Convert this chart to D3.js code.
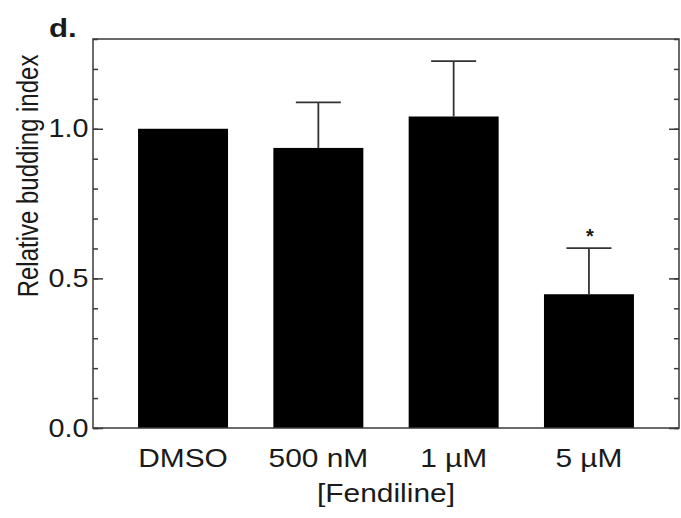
<!DOCTYPE html>
<html>
<head>
<meta charset="utf-8">
<script src="https://cdn.jsdelivr.net/npm/d3@7"></script>
<style>
  body { margin: 0; background: #fff; }
  text { font-family: "Liberation Sans", Arial, Helvetica, sans-serif; fill: #1a1a1a; }
</style>
</head>
<body>
<div id="chart"></div>
<script>
  'use strict';

  var categories = ["DMSO", "500 nM", "1 \u00b5M", "5 \u00b5M"];
  var means = [1.0, 0.936, 1.041, 0.447];
  var upperErrors = [0, 0.152, 0.185, 0.154];
  var marks = ["", "", "", "*"];
  var majorTicks = [0, 0.5, 1.0];

  var w = 681;
  var h = 518;
  var margin = {top: 39, right: 2, bottom: 90, left: 93};
  var innerW = w - margin.left - margin.right;
  var innerH = h - margin.top - margin.bottom;
  var stretch = "scale(1.15,1)";
  var axisColor = "#3a3a3a";

  var svg = d3.select("#chart").append("svg")
    .attr("width", w)
    .attr("height", h);

  var g = svg.append("g")
    .attr("transform", "translate(" + margin.left + "," + margin.top + ")");

  var x = d3.scaleBand()
    .domain(categories)
    .range([0, innerW])
    .paddingInner(0.335)
    .paddingOuter(0.333);

  var y = d3.scaleLinear()
    .domain([0, 1.3])
    .range([innerH, 0]);

  var data = categories.map(function (c, i) {
    return {name: c, mean: means[i], err: upperErrors[i], mark: marks[i]};
  });

  // bars
  g.selectAll("rect.bar")
    .data(data)
    .enter()
    .append("rect")
    .attr("class", "bar")
    .attr("x", function (d) { return x(d.name); })
    .attr("y", function (d) { return y(d.mean); })
    .attr("width", x.bandwidth())
    .attr("height", function (d) { return innerH - y(d.mean); })
    .attr("fill", "#000");

  // error bars (upper only)
  var capHalf = 22.5;
  var err = g.selectAll("g.err")
    .data(data.filter(function (d) { return d.err > 0; }))
    .enter()
    .append("g")
    .attr("class", "err")
    .attr("stroke", "#333")
    .attr("stroke-width", 1.8);

  err.append("line")
    .attr("x1", function (d) { return x(d.name) + x.bandwidth() / 2; })
    .attr("x2", function (d) { return x(d.name) + x.bandwidth() / 2; })
    .attr("y1", function (d) { return y(d.mean); })
    .attr("y2", function (d) { return y(d.mean + d.err); });

  err.append("line")
    .attr("x1", function (d) { return x(d.name) + x.bandwidth() / 2 - capHalf; })
    .attr("x2", function (d) { return x(d.name) + x.bandwidth() / 2 + capHalf; })
    .attr("y1", function (d) { return y(d.mean + d.err); })
    .attr("y2", function (d) { return y(d.mean + d.err); });

  // significance mark
  g.selectAll("text.mark")
    .data(data.filter(function (d) { return d.mark; }))
    .enter()
    .append("text")
    .attr("class", "mark")
    .attr("x", function (d) { return x(d.name) + x.bandwidth() / 2 + 1; })
    .attr("y", function (d) { return y(d.mean + d.err) - 5; })
    .attr("text-anchor", "middle")
    .attr("font-size", 20)
    .attr("font-weight", "bold")
    .text(function (d) { return d.mark; });

  // frame
  g.append("rect")
    .attr("x", 0)
    .attr("y", 0)
    .attr("width", innerW)
    .attr("height", innerH)
    .attr("fill", "none")
    .attr("stroke", axisColor)
    .attr("stroke-width", 1.5);

  // left axis: minor + major ticks pointing inward
  var leftMinor = g.append("g")
    .call(d3.axisLeft(y).ticks(13).tickSize(-5).tickFormat(""));
  var leftMajor = g.append("g")
    .call(d3.axisLeft(y).tickValues(majorTicks).tickSize(-10).tickPadding(4)
      .tickFormat(d3.format(".1f")));

  var rightMinor = g.append("g")
    .attr("transform", "translate(" + innerW + ",0)")
    .call(d3.axisRight(y).ticks(13).tickSize(-5).tickFormat(""));
  var rightMajor = g.append("g")
    .attr("transform", "translate(" + innerW + ",0)")
    .call(d3.axisRight(y).tickValues(majorTicks).tickSize(-10).tickFormat(""));

  [leftMinor, leftMajor, rightMinor, rightMajor].forEach(function (a) {
    a.select(".domain").remove();
    a.selectAll(".tick line").attr("stroke", axisColor).attr("stroke-width", 1.5);
  });

  leftMajor.selectAll(".tick text")
    .attr("font-size", 25)
    .attr("fill", "#1a1a1a")
    .attr("transform", stretch);

  // category labels
  var bottom = g.append("g")
    .attr("transform", "translate(0," + innerH + ")")
    .call(d3.axisBottom(x).tickSize(0).tickPadding(21));
  bottom.select(".domain").remove();
  bottom.selectAll(".tick text")
    .attr("font-size", 26)
    .attr("fill", "#1a1a1a")
    .attr("transform", stretch);

  // axis titles
  svg.append("text")
    .attr("text-anchor", "middle")
    .attr("font-size", 26)
    .attr("transform", "translate(386,502) " + stretch)
    .text("[Fendiline]");

  svg.append("text")
    .attr("text-anchor", "middle")
    .attr("font-size", 24)
    .attr("transform", "translate(38,176) rotate(-90) scale(1,1.2)")
    .text("Relative budding index");

  svg.append("text")
    .attr("font-size", 26)
    .attr("font-weight", "bold")
    .attr("fill", "#000")
    .attr("transform", "translate(49,37) scale(1.2,1)")
    .text("d.");
</script>
</body>
</html>
